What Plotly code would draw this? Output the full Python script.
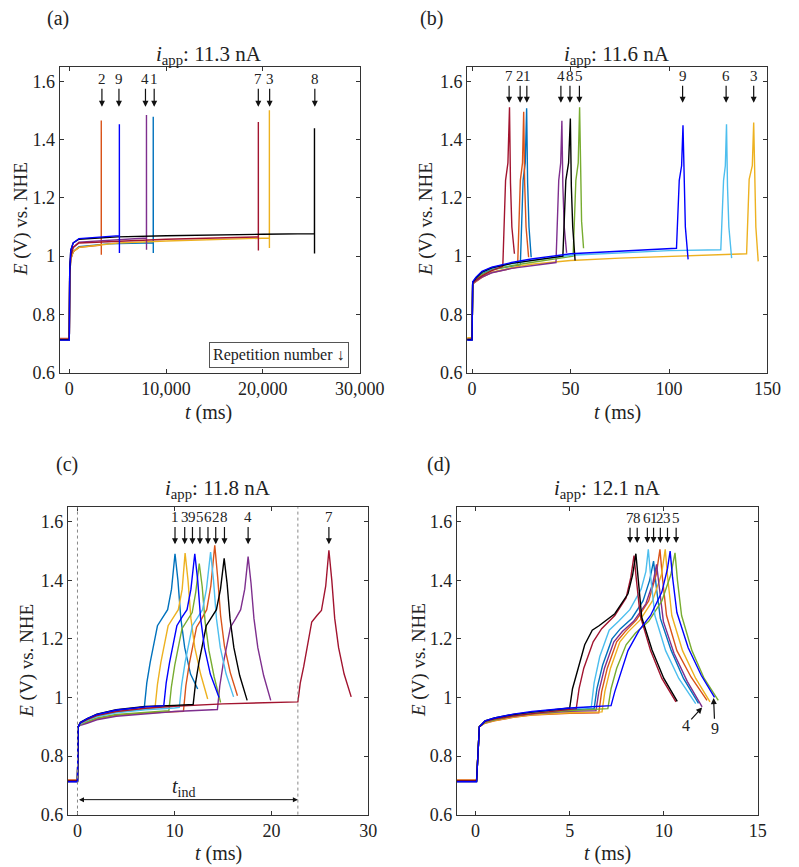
import plotly.graph_objects as go

FONT = "Liberation Serif"
INK = "#222222"
AX = "#333333"

COLORS = {1: "#0072BD", 2: "#D95319", 3: "#EDB120", 4: "#7E2F8E", 5: "#77AC30",
          6: "#4DBEEE", 7: "#A2142F", 8: "#000000", 9: "#0000FF"}

# ---------------- panel (a): i_app = 11.3 nA, t in ms ----------------
A_T = {
    1: [-1000, 0, 40, 150, 400, 1000, 4000, 8670, 8673, 8678],
    2: [-1000, 0, 40, 150, 400, 1000, 3300, 3303, 3308],
    3: [-1000, 0, 40, 150, 400, 1000, 5000, 10000, 20670, 20673, 20678],
    4: [-1000, 0, 40, 150, 400, 1000, 7970, 7973, 7978],
    7: [-1000, 0, 40, 150, 400, 1000, 10000, 19530, 19533, 19538],
    8: [-1000, 0, 40, 150, 400, 1000, 5000, 10000, 20000, 25330, 25333, 25338],
    9: [-1000, 0, 40, 150, 400, 1000, 5170, 5173, 5178],
}
A_E = {
    1: [0.714, 0.714, 0.93, 0.99, 1.015, 1.032, 1.042, 1.046, 1.478, 1.011],
    2: [0.718, 0.718, 0.93, 0.99, 1.015, 1.03, 1.038, 1.465, 1.005],
    3: [0.716, 0.716, 0.93, 0.99, 1.015, 1.03, 1.045, 1.052, 1.062, 1.50, 1.028],
    4: [0.714, 0.714, 0.94, 1.0, 1.03, 1.048, 1.062, 1.484, 1.022],
    7: [0.715, 0.715, 0.94, 1.0, 1.03, 1.045, 1.058, 1.066, 1.46, 1.019],
    8: [0.713, 0.713, 0.95, 1.02, 1.045, 1.058, 1.066, 1.07, 1.075, 1.077, 1.439, 1.009],
    9: [0.712, 0.712, 0.95, 1.02, 1.045, 1.06, 1.07, 1.452, 1.011],
}
A_ARROW_REP = ["2", "9", "4", "1", "7", "3", "8"]
A_ARROW_T = [3370, 5130, 7870, 8770, 19530, 20700, 25370]

# ---------------- panel (b): i_app = 11.6 nA ----------------
B_T = {
    1: [-2.5, 0, 0.3, 2, 5, 10, 20, 24.5, 25.9, 27.0, 27.7, 28.2, 28.9, 30.0],
    2: [-2.5, 0, 0.3, 2, 5, 10, 20, 23.1, 24.5, 25.6, 26.2, 26.7, 27.4, 28.7],
    3: [-2.5, 0, 0.3, 2, 5, 10, 20, 30, 50, 75, 100, 139.4, 140.7, 142.3, 143.0, 143.5, 144.1, 145.3],
    4: [-2.5, 0, 0.3, 2, 5, 10, 20, 30, 42.6, 44.0, 45.0, 45.6, 46.1, 46.8, 48.0],
    5: [-2.5, 0, 0.3, 2, 5, 10, 20, 30, 50, 51.3, 52.7, 53.9, 54.6, 55.0, 55.6, 56.6],
    6: [-2.5, 0, 0.3, 2, 5, 10, 20, 30, 50, 75, 100, 126.3, 127.7, 128.6, 129.2, 129.7, 130.4, 131.8],
    7: [-2.5, 0, 0.3, 2, 5, 10, 15.6, 17.0, 18.2, 19.0, 19.5, 20.2, 21.5],
    8: [-2.5, 0, 0.3, 2, 5, 10, 20, 30, 46.1, 47.6, 49.0, 49.9, 50.4, 51.1, 52.3],
    9: [-2.5, 0, 0.3, 2, 5, 10, 20, 30, 50, 75, 103.8, 105.2, 106.4, 107.1, 107.6, 108.3, 109.7],
}
B_E = {
    1: [0.714, 0.714, 0.91, 0.922, 0.94, 0.955, 0.967, 0.97, 1.26, 1.32, 1.507, 1.25, 1.10, 0.996],
    2: [0.718, 0.718, 0.905, 0.913, 0.927, 0.944, 0.958, 0.962, 1.26, 1.32, 1.495, 1.25, 1.10, 0.996],
    3: [0.72, 0.72, 0.905, 0.915, 0.93, 0.945, 0.96, 0.972, 0.985, 0.993, 0.999, 1.008, 1.263, 1.31, 1.458, 1.24, 1.10, 0.982],
    4: [0.714, 0.714, 0.905, 0.915, 0.928, 0.943, 0.958, 0.968, 0.978, 1.26, 1.32, 1.464, 1.24, 1.10, 1.011],
    5: [0.715, 0.715, 0.91, 0.92, 0.937, 0.952, 0.967, 0.978, 0.998, 1.0, 1.26, 1.32, 1.511, 1.26, 1.12, 1.027],
    6: [0.714, 0.714, 0.91, 0.925, 0.944, 0.958, 0.974, 0.985, 1.003, 1.012, 1.019, 1.022, 1.26, 1.31, 1.452, 1.24, 1.10, 0.993],
    7: [0.715, 0.715, 0.91, 0.918, 0.932, 0.95, 0.965, 1.26, 1.32, 1.511, 1.25, 1.10, 1.008],
    8: [0.713, 0.713, 0.91, 0.925, 0.945, 0.96, 0.975, 0.985, 1.0, 1.26, 1.32, 1.472, 1.24, 1.10, 0.985],
    9: [0.712, 0.712, 0.912, 0.928, 0.948, 0.962, 0.978, 0.99, 1.008, 1.016, 1.027, 1.26, 1.31, 1.449, 1.24, 1.10, 0.989],
}
B_ARROW_REP = ["7", "2", "1", "4", "8", "5", "9", "6", "3"]
B_ARROW_T = [18.8, 24.4, 27.8, 45.1, 49.7, 54.5, 106.9, 129.0, 143.0]

# ---------------- panel (c): i_app = 11.8 nA ----------------
C_T = {
    1: [-1, 0, 0.08, 0.3, 1, 2, 4, 6.9, 7.15, 7.5, 8.25, 8.8, 9.3, 9.7, 10.06, 10.36, 10.66, 11.06, 11.66, 12.4],
    2: [-1, 0, 0.08, 0.3, 1, 2, 4, 7, 10.93, 11.18, 11.53, 12.28, 12.83, 13.33, 13.75, 14.16, 14.46, 14.76, 15.16, 15.76, 16.5],
    3: [-1, 0, 0.08, 0.3, 1, 2, 4, 7, 8.0, 8.25, 8.6, 9.35, 9.9, 10.4, 10.8, 11.1, 11.4, 11.7, 12.1, 12.7, 13.43],
    4: [-1, 0, 0.08, 0.3, 1, 2, 4, 7, 10, 14.43, 14.68, 15.03, 15.78, 16.33, 16.83, 17.25, 17.6, 17.9, 18.2, 18.6, 19.2, 19.93],
    5: [-1, 0, 0.08, 0.3, 1, 2, 4, 7, 9.43, 9.68, 10.03, 10.78, 11.33, 11.83, 12.2, 12.56, 12.86, 13.16, 13.56, 14.1, 14.76],
    6: [-1, 0, 0.08, 0.3, 1, 2, 4, 7, 10, 10.5, 10.75, 11.1, 11.85, 12.4, 12.9, 13.3, 13.73, 14.03, 14.33, 14.73, 15.33, 16.1],
    7: [-1, 0, 0.08, 0.3, 1, 2, 4, 7, 10, 15, 22.73, 22.98, 23.33, 24.16, 24.7, 25.16, 25.6, 25.93, 26.23, 26.53, 26.93, 27.5, 28.23],
    8: [-1, 0, 0.08, 0.3, 1, 2, 4, 7, 10, 11.93, 12.18, 12.53, 13.28, 13.83, 14.33, 14.75, 15.13, 15.43, 15.73, 16.13, 16.73, 17.5],
    9: [-1, 0, 0.08, 0.3, 1, 2, 4, 7, 8.9, 9.15, 9.5, 10.25, 10.8, 11.3, 11.7, 12.1, 12.4, 12.7, 13.1, 13.7, 14.6],
}
C_E = {
    1: [0.716, 0.716, 0.9, 0.913, 0.926, 0.94, 0.955, 0.968, 1.05, 1.12, 1.245, 1.275, 1.30, 1.37, 1.491, 1.40, 1.27, 1.17, 1.08, 1.029],
    2: [0.718, 0.718, 0.9, 0.907, 0.915, 0.927, 0.939, 0.947, 0.953, 1.04, 1.115, 1.24, 1.27, 1.30, 1.38, 1.52, 1.41, 1.28, 1.175, 1.085, 1.006],
    3: [0.714, 0.714, 0.9, 0.91, 0.922, 0.936, 0.95, 0.962, 0.965, 1.045, 1.12, 1.245, 1.275, 1.30, 1.37, 1.493, 1.40, 1.27, 1.17, 1.08, 0.995],
    4: [0.714, 0.714, 0.9, 0.905, 0.912, 0.924, 0.936, 0.945, 0.952, 0.959, 1.04, 1.115, 1.24, 1.27, 1.30, 1.37, 1.481, 1.39, 1.27, 1.17, 1.075, 0.99],
    5: [0.715, 0.715, 0.9, 0.908, 0.918, 0.93, 0.942, 0.95, 0.955, 1.035, 1.11, 1.235, 1.265, 1.29, 1.36, 1.457, 1.38, 1.26, 1.16, 1.07, 0.983],
    6: [0.714, 0.714, 0.9, 0.91, 0.922, 0.935, 0.948, 0.958, 0.964, 0.966, 1.045, 1.12, 1.245, 1.275, 1.30, 1.37, 1.497, 1.40, 1.27, 1.17, 1.08, 1.002],
    7: [0.716, 0.716, 0.9, 0.912, 0.924, 0.938, 0.952, 0.963, 0.97, 0.978, 0.985, 1.05, 1.105, 1.258, 1.28, 1.297, 1.38, 1.503, 1.40, 1.27, 1.17, 1.08, 1.002],
    8: [0.713, 0.713, 0.9, 0.915, 0.928, 0.943, 0.958, 0.969, 0.973, 0.976, 1.05, 1.12, 1.245, 1.275, 1.30, 1.37, 1.475, 1.39, 1.27, 1.17, 1.075, 0.99],
    9: [0.712, 0.712, 0.9, 0.914, 0.928, 0.942, 0.957, 0.968, 0.972, 1.05, 1.12, 1.245, 1.275, 1.30, 1.37, 1.491, 1.40, 1.27, 1.17, 1.08, 1.0],
}
C_ARROW_REP = ["1", "3", "9", "5", "6", "2", "8", "4", "7"]
C_ARROW_T = [10.06, 11.06, 11.86, 12.63, 13.46, 14.26, 15.16, 17.6, 25.93]
C_TIND = [0.0, 22.73]

# ---------------- panel (d): i_app = 12.1 nA ----------------
D_T = {
    1: [-1, 0.05, 0.2, 0.5, 1, 2, 3, 5, 6.3, 6.45, 6.75, 7.25, 7.7, 8.3, 8.9, 9.25, 9.46, 9.6, 9.82, 10.4, 11.05, 11.85],
    2: [-1, 0.05, 0.2, 0.5, 1, 2, 3, 5, 6.55, 6.7, 7.0, 7.5, 7.95, 8.55, 9.2, 9.6, 9.8, 9.93, 10.15, 10.7, 11.45, 12.3],
    3: [-1, 0.05, 0.2, 0.5, 1, 2, 3, 5, 6.72, 6.87, 7.17, 7.67, 8.12, 8.75, 9.4, 9.88, 10.08, 10.21, 10.43, 11.0, 11.7, 12.46],
    4: [-1, 0.05, 0.2, 0.5, 1, 2, 3, 5, 6.4, 6.55, 6.85, 7.35, 7.8, 8.4, 9.05, 9.42, 9.62, 9.76, 9.98, 10.55, 11.25, 12.04],
    5: [-1, 0.05, 0.2, 0.5, 1, 2, 3, 5, 7.03, 7.2, 7.5, 8.0, 8.5, 9.2, 9.9, 10.38, 10.6, 10.73, 10.95, 11.5, 12.15, 12.9],
    6: [-1, 0.05, 0.2, 0.5, 1, 2, 3, 5, 6.15, 6.3, 6.6, 7.1, 7.6, 8.2, 8.8, 9.05, 9.18, 9.31, 9.53, 10.1, 10.8, 11.7],
    7: [-1, 0.05, 0.2, 0.5, 1, 2, 3, 5.35, 5.5, 5.75, 6.25, 6.7, 7.4, 8.0, 8.25, 8.42, 8.55, 8.75, 9.3, 9.9, 10.65],
    8: [-1, 0.05, 0.2, 0.5, 1, 2, 3, 5.0, 5.15, 5.4, 5.8, 6.2, 6.56, 7.4, 8.1, 8.35, 8.52, 8.65, 8.83, 9.38, 10.0, 10.72],
    9: [-1, 0.05, 0.2, 0.5, 1, 2, 3, 5, 7.2, 7.4, 8.1, 8.7, 9.3, 9.9, 10.2, 10.34, 10.47, 10.7, 11.3, 12.0, 12.7],
}
D_E = {
    1: [0.714, 0.714, 0.9, 0.917, 0.926, 0.939, 0.947, 0.958, 0.962, 1.03, 1.11, 1.2, 1.235, 1.27, 1.33, 1.40, 1.466, 1.38, 1.27, 1.16, 1.065, 0.98],
    2: [0.718, 0.718, 0.9, 0.912, 0.92, 0.932, 0.94, 0.946, 0.948, 1.02, 1.10, 1.19, 1.225, 1.265, 1.33, 1.42, 1.506, 1.41, 1.28, 1.16, 1.07, 0.99],
    3: [0.717, 0.717, 0.9, 0.913, 0.921, 0.933, 0.941, 0.948, 0.951, 1.02, 1.10, 1.19, 1.225, 1.265, 1.33, 1.42, 1.506, 1.41, 1.28, 1.16, 1.065, 0.985],
    4: [0.715, 0.715, 0.9, 0.915, 0.924, 0.936, 0.944, 0.953, 0.955, 1.02, 1.10, 1.19, 1.225, 1.26, 1.32, 1.39, 1.455, 1.37, 1.26, 1.15, 1.055, 0.968],
    5: [0.715, 0.715, 0.9, 0.915, 0.924, 0.937, 0.945, 0.955, 0.962, 1.03, 1.10, 1.18, 1.22, 1.26, 1.33, 1.42, 1.494, 1.40, 1.28, 1.16, 1.065, 0.99],
    6: [0.714, 0.714, 0.9, 0.918, 0.927, 0.94, 0.948, 0.96, 0.968, 1.05, 1.14, 1.23, 1.26, 1.30, 1.37, 1.43, 1.506, 1.41, 1.28, 1.16, 1.065, 0.979],
    7: [0.716, 0.716, 0.9, 0.918, 0.926, 0.937, 0.945, 0.962, 1.03, 1.10, 1.19, 1.235, 1.28, 1.34, 1.41, 1.485, 1.40, 1.28, 1.16, 1.065, 0.985],
    8: [0.713, 0.713, 0.9, 0.92, 0.93, 0.942, 0.95, 0.964, 1.03, 1.09, 1.18, 1.23, 1.245, 1.286, 1.354, 1.42, 1.491, 1.40, 1.274, 1.162, 1.066, 0.987],
    9: [0.712, 0.712, 0.9, 0.92, 0.93, 0.943, 0.952, 0.964, 0.972, 1.02, 1.16, 1.23, 1.28, 1.36, 1.44, 1.50, 1.41, 1.29, 1.17, 1.075, 1.0],
}
D_ARROW_REP = ["7", "8", "6", "1", "2", "3", "5"]
D_ARROW_T = [8.21, 8.59, 9.13, 9.46, 9.82, 10.2, 10.66]
D_LOW_REP = ["4", "9"]
D_LOW_TIP = [(12.04, 0.966), (12.65, 0.998)]
D_LOW_LABEL = [(11.17, 0.905), (12.72, 0.893)]

TITLES = ["11.3", "11.6", "11.8", "12.1"]
PANEL_TAGS = ["(a)", "(b)", "(c)", "(d)"]

Y_TICKS = [0.6, 0.8, 1.0, 1.2, 1.4, 1.6]
Y_TICKTEXT = ["0.6", "0.8", "1", "1.2", "1.4", "1.6"]
A_XTICKS = [0, 10000, 20000, 30000]
A_XTICKTEXT = ["0", "10,000", "20,000", "30,000"]
B_XTICKS = [0, 50, 100, 150]
C_XTICKS = [0, 10, 20, 30]
D_XTICKS = [0, 5, 10, 15]

W, H = 799, 867


def px(x):
    return x / W


def py(y):
    return 1 - y / H


fig = go.Figure()

panels = [
    (A_T, A_E, "x", "y"),
    (B_T, B_E, "x2", "y2"),
    (C_T, C_E, "x3", "y3"),
    (D_T, D_E, "x4", "y4"),
]
for T, E, xa, ya in panels:
    for rep in sorted(T):
        fig.add_trace(go.Scatter(
            x=T[rep], y=E[rep], mode="lines", xaxis=xa, yaxis=ya,
            line=dict(color=COLORS[rep], width=1.4), showlegend=False,
            hoverinfo="skip"))

dom = {
    "a": dict(x=[px(53.3), px(363)], y=[py(369), py(59.3)]),
    "b": dict(x=[px(474), px(784)], y=[py(369), py(59.3)]),
    "c": dict(x=[px(61.7), px(372)], y=[py(816), py(505)]),
    "d": dict(x=[px(463.3), px(774)], y=[py(816), py(505)]),
}

common = dict(showgrid=False, zeroline=False, showline=True, linecolor=AX, linewidth=1,
              mirror="ticks", ticks="inside", ticklen=4, tickcolor=AX,
              tickfont=dict(family=FONT, size=18, color=INK))

xranges = [[-1000, 30000], [-2.5, 150], [-1, 30], [-1, 15]]
xticks = [(A_XTICKS, A_XTICKTEXT), (B_XTICKS, [str(v) for v in B_XTICKS]),
          (C_XTICKS, [str(v) for v in C_XTICKS]), (D_XTICKS, [str(v) for v in D_XTICKS])]
keys = ["a", "b", "c", "d"]
layout_axes = {}
for i, k in enumerate(keys):
    sfx = "" if i == 0 else str(i + 1)
    layout_axes["xaxis" + sfx] = dict(common, domain=dom[k]["x"], range=xranges[i],
                                      anchor="y" + sfx, tickvals=xticks[i][0],
                                      ticktext=xticks[i][1])
    layout_axes["yaxis" + sfx] = dict(common, domain=dom[k]["y"], range=[0.6, 1.65],
                                      anchor="x" + sfx, tickvals=Y_TICKS,
                                      ticktext=Y_TICKTEXT)

ann = []


def paper_text(x, y, text, size, angle=0):
    ann.append(dict(x=px(x), y=py(y), xref="paper", yref="paper", text=text,
                    showarrow=False, xanchor="center", yanchor="middle", textangle=angle,
                    font=dict(family=FONT, size=size, color=INK)))


title_pos = [(208, 48), (629, 48), (217, 487), (618.7, 487)]
tag_pos = [(52, 11), (437, 11), (61, 462), (444, 462)]
xlab_pos = [(207, 409), (629, 409), (217, 855), (618.7, 855)]
ylab_pos = [(13, 214), (431, 214), (20, 660), (425, 660)]
for i in range(4):
    paper_text(*title_pos[i], "<i>i</i><sub>app</sub>: " + TITLES[i] + " nA", 21)
    paper_text(*tag_pos[i], PANEL_TAGS[i], 20)
    paper_text(*xlab_pos[i], "<i>t</i> (ms)", 20)
    paper_text(*ylab_pos[i], "<i>E</i> (V) vs. NHE", 19, -90)


def rep_arrows(reps, ts, xa, ya, ylab, ytip):
    for r, t in zip(reps, ts):
        ann.append(dict(x=t, y=ytip, ax=t, ay=ylab, xref=xa, yref=ya, axref=xa, ayref=ya,
                        text=r, showarrow=True, arrowhead=2, arrowsize=1, arrowwidth=1.2,
                        arrowcolor="#111111", standoff=0,
                        font=dict(family=FONT, size=15, color=INK)))


rep_arrows(A_ARROW_REP, A_ARROW_T, "x", "y", 1.607, 1.512)
rep_arrows(B_ARROW_REP, B_ARROW_T, "x2", "y2", 1.617, 1.526)
rep_arrows(C_ARROW_REP, C_ARROW_T, "x3", "y3", 1.615, 1.523)
rep_arrows(D_ARROW_REP, D_ARROW_T, "x4", "y4", 1.612, 1.528)

for r, tip, lab in zip(D_LOW_REP, D_LOW_TIP, D_LOW_LABEL):
    ann.append(dict(x=tip[0], y=tip[1], ax=lab[0], ay=lab[1], xref="x4", yref="y4",
                    axref="x4", ayref="y4", text=r, showarrow=True, arrowhead=2,
                    arrowsize=1, arrowwidth=1.2, arrowcolor="#111111",
                    font=dict(family=FONT, size=16, color=INK)))

# "Repetition number" box in (a)
ann.append(dict(x=px(280), y=py(351), xref="paper", yref="paper",
                xanchor="center", yanchor="middle",
                text="Repetition number ↓", showarrow=False, bordercolor="#555555",
                borderwidth=1, borderpad=3, bgcolor="white",
                font=dict(family=FONT, size=16, color=INK)))

# t_ind in (c)
ann.append(dict(x=C_TIND[1], y=0.651, ax=C_TIND[0], ay=0.651, xref="x3", yref="y3",
                axref="x3", ayref="y3", text="", showarrow=True, arrowhead=2,
                startarrowhead=2, arrowside="end+start", arrowsize=1, arrowwidth=1,
                arrowcolor="#111111", standoff=0, startstandoff=0))
ann.append(dict(x=(C_TIND[0] + C_TIND[1]) / 2 - 0.4, y=0.694, xref="x3", yref="y3",
                xanchor="center", yanchor="middle",
                text="<i>t</i><sub>ind</sub>", showarrow=False,
                font=dict(family=FONT, size=20, color=INK)))

shapes = []
for t in C_TIND:
    shapes.append(dict(type="line", xref="x3", yref="y3 domain", x0=t, x1=t, y0=0, y1=1,
                       line=dict(color="#888888", width=1, dash="dot")))

fig.update_layout(width=W, height=H, autosize=False,
                  margin=dict(l=0, r=0, t=0, b=0),
                  paper_bgcolor="white", plot_bgcolor="white",
                  annotations=ann, shapes=shapes, **layout_axes)

fig.write_html("out.html")
